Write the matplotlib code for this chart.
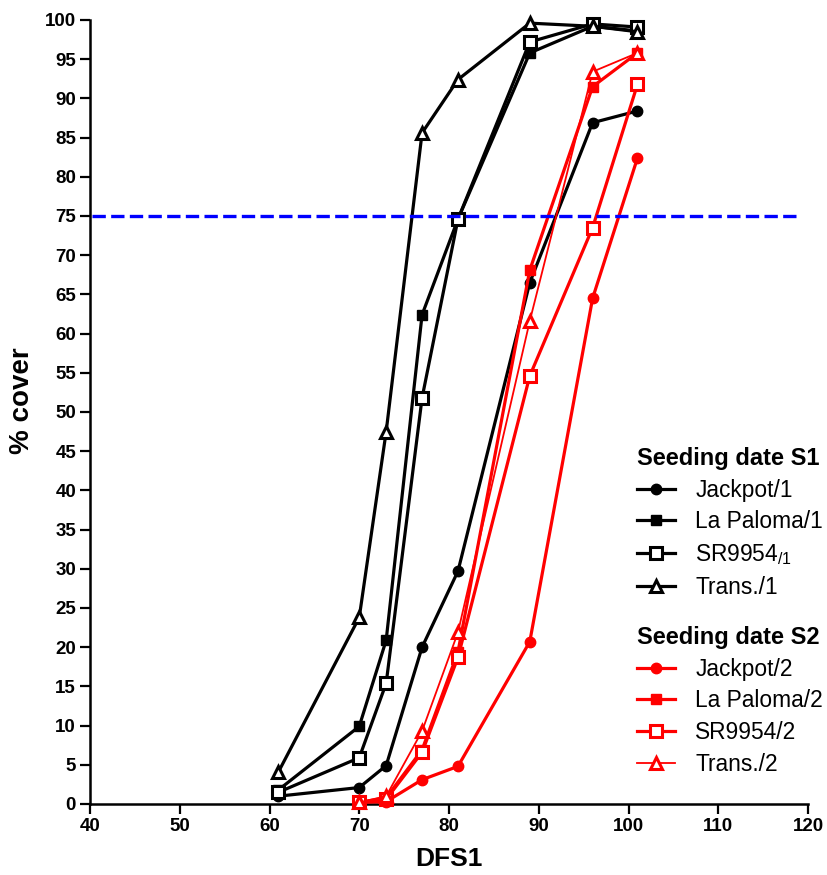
import matplotlib
matplotlib.use("Agg")
import matplotlib.pyplot as plt

plt.rcParams['font.family'] = ['Liberation Sans', 'DejaVu Sans']
plt.rcParams['mathtext.fontset'] = 'custom'
plt.rcParams['mathtext.rm'] = 'Liberation Sans'

# Days from seeding (DFS1) at each cover assessment
dfs_s1 = [61, 70, 73, 77, 81, 89, 96, 101]
dfs_s2 = [70, 73, 77, 81, 89, 96, 101]

# Seeding date S1 (% ground cover)
jackpot_1 = [1.0, 2.1, 4.9, 20.0, 29.7, 66.5, 86.9, 88.4]
lapaloma_1 = [1.8, 9.9, 20.9, 62.4, 74.6, 95.8, 99.2, 98.6]
sr9954_1 = [1.5, 5.9, 15.4, 51.8, 74.6, 97.2, 99.5, 99.1]
trans_1 = [4.1, 23.8, 47.5, 85.6, 92.4, 99.6, 99.2, 98.5]

# Seeding date S2 (% ground cover)
jackpot_2 = [0.2, 0.3, 3.1, 4.8, 20.7, 64.5, 82.4]
lapaloma_2 = [0.2, 0.8, 6.9, 19.4, 68.1, 91.5, 95.8]
sr9954_2 = [0.2, 0.6, 6.6, 18.7, 54.6, 73.5, 91.8]
trans_2 = [0.2, 1.0, 9.3, 21.9, 61.6, 93.4, 95.8]

threshold = 75

xticks = list(range(40, 121, 10))
yticks = list(range(0, 101, 5))

fig = plt.figure(figsize=(8.27, 8.75), dpi=100)
ax = fig.add_axes([90 / 827, 1 - 804 / 875, (808 - 90) / 827, (804 - 20) / 875])

lw = 2.3
styles = {
    'circle': dict(marker='o', ms=7.5),
    'fsq': dict(marker='s', ms=7.0),
    'osq': dict(marker='s', ms=8.0, mfc='white', mew=2.2),
    'tri': dict(marker='^', ms=8.5, mfc='white', mew=2.2),
}

s1 = [
    ('Jackpot/1', jackpot_1, 'circle'),
    ('La Paloma/1', lapaloma_1, 'fsq'),
    ('SR9954$\\mathregular{_{/1}}$', sr9954_1, 'osq'),
    ('Trans./1', trans_1, 'tri'),
]
s2 = [
    ('Jackpot/2', jackpot_2, 'circle'),
    ('La Paloma/2', lapaloma_2, 'fsq'),
    ('SR9954/2', sr9954_2, 'osq'),
    ('Trans./2', trans_2, 'tri'),
]

h1 = []
for name, vals, st in s1:
    ln, = ax.plot(dfs_s1, vals, color='black', lw=lw, mec='black',
                  clip_on=False, zorder=3, **styles[st])
    h1.append(ln)

h2 = []
for name, vals, st in s2:
    w = 1.3 if name.startswith('Trans') else lw
    ln, = ax.plot(dfs_s2, vals, color='red', lw=w, mec='red',
                  clip_on=False, zorder=4, **styles[st])
    h2.append(ln)

# 75 % cover reference line
ax.plot([40.2, 118.9], [threshold, threshold], color='blue', lw=2.4,
        dashes=(4.0, 1.6), zorder=5, clip_on=False)

ax.set_xlim(40, 120)
ax.set_ylim(0, 100)
ax.set_xticks(xticks)
ax.set_yticks(yticks)
ax.spines['top'].set_visible(False)
ax.spines['right'].set_visible(False)
for sp in ('left', 'bottom'):
    ax.spines[sp].set_linewidth(1.8)
ax.tick_params(direction='out', length=7, width=1.6, labelsize=13.5, pad=3)
for lab in ax.get_xticklabels() + ax.get_yticklabels():
    lab.set_fontweight('bold')

ax.set_xlabel('DFS1', fontsize=19, fontweight='bold', labelpad=9)
ax.set_ylabel('% cover', fontsize=20, fontweight='bold')
ax.yaxis.set_label_coords(-0.077, 0.515)

leg_kw = dict(loc='upper left', frameon=False, borderpad=0, borderaxespad=0,
              handlelength=1.65, handletextpad=0.9, labelspacing=0.38,
              fontsize=16.4, alignment='left',
              title_fontproperties={'weight': 'bold', 'size': 17},
              bbox_transform=fig.transFigure)
leg1 = ax.legend(h1, [n for n, _, _ in s1], title='Seeding date S1',
                 bbox_to_anchor=(637 / 827, 1 - 447 / 875), **leg_kw)
ax.add_artist(leg1)
leg2 = ax.legend(h2, [n for n, _, _ in s2], title='Seeding date S2',
                 bbox_to_anchor=(637 / 827, 1 - 626 / 875), **leg_kw)

fig.savefig('out.png', dpi=100)
